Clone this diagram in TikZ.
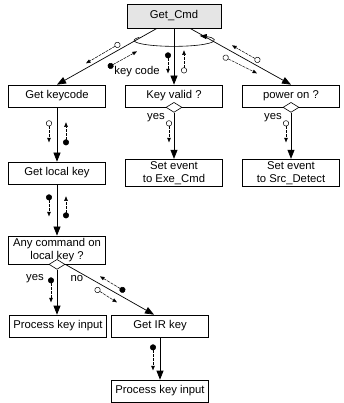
\documentclass[tikz,border=0pt]{standalone}
\usepackage{fontspec}
\setmainfont{Liberation Sans}
\usetikzlibrary{trees,arrows.meta,shapes.geometric}

\begin{document}
\begin{tikzpicture}[x=1pt, y=1pt,
        module/.style={draw, line width=0.7pt, minimum width=97pt, minimum height=22pt,
          inner sep=2.5pt, align=center, font=\fontsize{11.3}{12.5}\selectfont},
        every child node/.style=module, edge from parent/.style={draw=none},
        level 1/.style={level distance=80pt, sibling distance=117pt},
        level 2/.style={level distance=77pt},
        level 3/.style={level distance=77pt},
        level 4/.style={grow via three points={one child at (0pt,-76pt) and two children at (1pt,-76pt) and (103pt,-76pt)}},
        level 5/.style={grow=down, level distance=65pt},
        call/.style={line width=0.7pt, -{Triangle[length=9pt,width=7pt]}},
        couple/.style={line width=0.5pt, dash pattern=on 3pt off 1pt},
        datacpl/.style={couple, {Circle[open,length=6pt,width=6pt]}-{Triangle[length=4.5pt,width=3.5pt]}},
        flagcpl/.style={couple, {Circle[length=6pt,width=6pt]}-{Triangle[length=4.5pt,width=3.5pt]}},
        decision/.style={diamond, draw, fill=white, line width=0.6pt, minimum width=16pt,
          minimum height=10pt, inner sep=0pt},
        lbl/.style={font=\fontsize{11.3}{12.5}\selectfont, inner sep=1pt}]

        \useasboundingbox (-174,16) rectangle (169,-387);

        \node[module, fill=gray!20, minimum width=94pt, minimum height=24pt] (cmd) {Get\_Cmd}
            child { node (keycode) {Get keycode}
                child { node (local) {Get local key}
                    child { node (any) {Any command on\\local key ?}
                        child { node (proc1) {Process key input}}
                        child { node (irkey) {Get IR key}
                            child { node (proc2) {Process key input}}
                        }
                    }
                }
            }
            child { node (valid) {Key valid ?}
                child { node (exe) {Set event\\to Exe\_Cmd}}
            }
            child { node (power) {power on ?}
                child { node (src) {Set event\\to Src\_Detect}}
            };

        \node[decision] (validd) at (valid.south) {};
        \node[decision] (powerd) at (power.south) {};
        \node[decision] (anyd) at (any.south) {};

        % calls
        \draw[call] ([xshift=-17pt]cmd.south) -- (keycode.north);
        \draw[call] (cmd.south) -- (valid.north);
        \draw[call] ([xshift=16pt]cmd.south) -- (power.north);
        \draw[call] (keycode.south) -- (local.north);
        \draw[call] (local.south) -- (any.north);
        \draw[call] (validd.south) -- (exe.north);
        \draw[call] (powerd.south) -- (src.north);
        \draw[call] (anyd.south) -- (anyd.south |- proc1.north);
        \draw[call] (anyd.east) -- ([xshift=-6pt]irkey.north);
        \draw[call] (irkey.south) -- (proc2.north);

        % loop
        \coordinate (loopc) at ([yshift=-12pt]cmd.south);
        \draw[line width=0.6pt, -{Triangle[length=7pt,width=5pt]}]
            ([shift={(150:40pt and 6pt)}]loopc) arc[start angle=150, end angle=410, x radius=40pt, y radius=6pt];

        % couples
        \draw[datacpl] ([shift={(-54,-15)}]cmd.south) -- ([shift={(-88,-35)}]cmd.south);
        \draw[flagcpl] ([shift={(-66,-39)}]cmd.south) -- ([shift={(-37,-23)}]cmd.south);
        \draw[flagcpl] ([shift={(-6,-24)}]cmd.south) -- ([shift={(-6,-45)}]cmd.south);
        \draw[datacpl] ([shift={(10,-45)}]cmd.south) -- ([shift={(10,-22)}]cmd.south);
        \draw[datacpl] ([shift={(86,-33)}]cmd.south) -- ([shift={(58,-17)}]cmd.south);
        \draw[datacpl] ([shift={(49,-28)}]cmd.south) -- ([shift={(83,-45)}]cmd.south);
        \node[lbl] (kcode) at ([shift={(-37,-43)}]cmd.south) {key code};

        \draw[datacpl] ([shift={(-5,-13)}]valid.south) -- ([shift={(-5,-35)}]valid.south);
        \draw[datacpl] ([shift={(-5,-13)}]power.south) -- ([shift={(-5,-35)}]power.south);
        \node[lbl] (yes1) at ([shift={(-18,-10)}]validd.center) {yes};
        \node[lbl] (yes2) at ([shift={(-18,-10)}]powerd.center) {yes};

        \draw[datacpl] ([shift={(-8,-13)}]keycode.south) -- ([shift={(-8,-35)}]keycode.south);
        \draw[flagcpl] ([shift={(9,-38)}]keycode.south) -- ([shift={(9,-15)}]keycode.south);
        \draw[flagcpl] ([shift={(-8,-10)}]local.south) -- ([shift={(-8,-32)}]local.south);
        \draw[flagcpl] ([shift={(9,-34)}]local.south) -- ([shift={(9,-12)}]local.south);

        \draw[flagcpl] ([shift={(-6,-13)}]anyd.center) -- ([shift={(-6,-38)}]anyd.center);
        \node[lbl] (yes3) at ([shift={(-22,-14)}]anyd.center) {yes};
        \node[lbl] (no) at ([shift={(20,-14)}]anyd.center) {no};
        \draw[flagcpl] ([shift={(68,-27)}]anyd.center) -- ([shift={(43,-12)}]anyd.center);
        \draw[datacpl] ([shift={(38,-24)}]anyd.center) -- ([shift={(60,-38)}]anyd.center);

        \draw[flagcpl] ([shift={(-7,-7)}]irkey.south) -- ([shift={(-7,-33)}]irkey.south);
\end{tikzpicture}
\end{document}
